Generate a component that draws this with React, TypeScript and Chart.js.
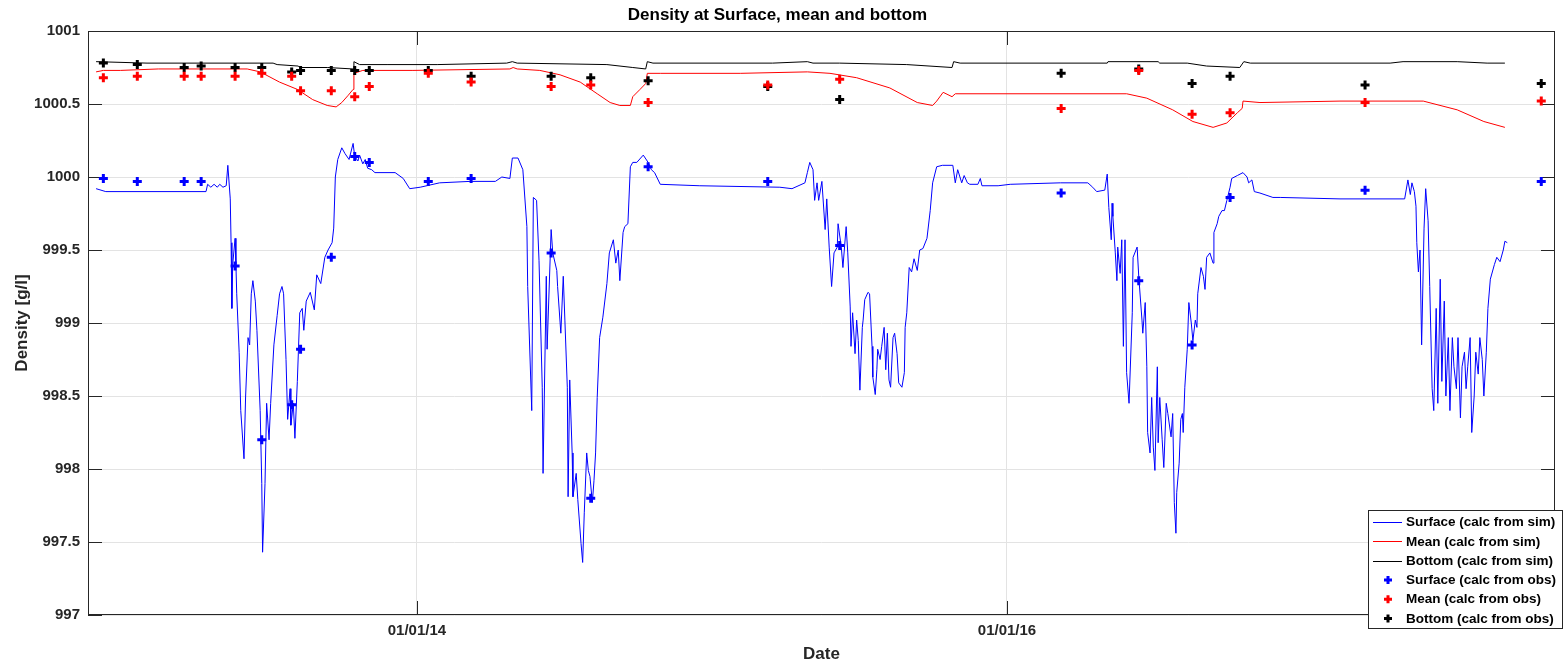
import React, { useEffect, useRef } from 'react';
import { Chart, registerables } from 'chart.js';

Chart.register(...registerables);

// x values are days since 01/01/2014
const surfaceSimDays = [
  -397, -385, -261, -259, -255, -251, -247, -244, -240, -236, -234, -231, -230, -229, -228, -225, -224, -223, -220, -218,
  -214, -212, -209, -207, -205, -203, -200, -198, -194, -192, -191, -188, -186, -183, -181, -177, -173, -170, -167, -165,
  -162, -160, -157, -156, -153, -151, -148, -145, -142, -140, -137, -132, -127, -124, -119, -114, -110, -105, -103, -101,
  -98, -93, -89, -84, -79, -77, -73, -71, -67, -64, -61, -56, -52, -27, -17, -9, 4, 28, 66, 97,
  105, 115, 118, 125, 131, 136, 137, 142, 144, 148, 151, 155, 156, 160, 161, 166, 168, 173, 174, 178,
  181, 183, 186, 187, 189, 192, 193, 197, 199, 203, 205, 207, 210, 212, 214, 217, 219, 221, 223, 226,
  230, 235, 238, 243, 246, 249, 251, 255, 257, 261, 264, 267, 272, 280, 286, 290, 294, 301, 350, 449,
  464, 480, 483, 486, 490, 492, 495, 497, 501, 505, 507, 510, 513, 516, 520, 521, 525, 527, 531, 533,
  536, 537, 539, 542, 544, 546, 548, 551, 552, 554, 558, 560, 563, 564, 567, 569, 570, 573, 575, 578,
  580, 582, 584, 586, 589, 591, 594, 596, 600, 603, 604, 606, 609, 612, 615, 619, 622, 626, 631, 635,
  638, 643, 650, 663, 666, 669, 674, 677, 681, 684, 694, 697, 699, 719, 734, 796, 830, 836, 841, 851,
  854, 856, 859, 860, 861, 864, 866, 867, 870, 872, 874, 876, 878, 881, 885, 886, 891, 893, 897, 898,
  901, 903, 904, 907, 909, 911, 913, 916, 917, 919, 922, 924, 927, 929, 933, 935, 937, 939, 940, 943,
  945, 947, 948, 950, 953, 955, 958, 960, 963, 965, 966, 970, 973, 975, 977, 981, 985, 986, 990, 992,
  996, 999, 1002, 1006, 1008, 1015, 1022, 1027, 1029, 1033, 1036, 1043, 1059, 1068, 1142, 1222, 1226, 1229, 1231, 1234,
  1236, 1237, 1239, 1241, 1243, 1246, 1248, 1251, 1253, 1256, 1258, 1261, 1263, 1266, 1268, 1271, 1273, 1276, 1278, 1281,
  1283, 1286, 1288, 1291, 1293, 1296, 1298, 1300, 1303, 1305, 1308, 1310, 1313, 1315, 1318, 1320, 1323, 1325, 1328, 1333,
  1336, 1340, 1344, 1346, 1349,
];
const surfaceSim = [
  999.92, 999.9, 999.9, 999.95, 999.93, 999.95, 999.93, 999.95, 999.93, 999.94, 1000.08, 999.85, 999.55, 999.1, 999.4, 999.58, 999.4, 999.2, 998.8, 998.4,
  998.07, 998.5, 998.9, 998.85, 999.2, 999.29, 999.15, 998.95, 998.4, 997.9, 997.43, 997.9, 998.45, 998.2, 998.45, 998.85, 999.05, 999.2, 999.25, 999.2,
  998.75, 998.34, 998.55, 998.3, 998.45, 998.21, 998.6, 999.07, 999.1, 998.95, 999.15, 999.21, 999.09, 999.33, 999.27, 999.45, 999.5, 999.55, 999.65, 1000.0,
  1000.12, 1000.2, 1000.16, 1000.12, 1000.23, 1000.14, 1000.11, 1000.15, 1000.09, 1000.12, 1000.06, 1000.05, 1000.03, 1000.03, 999.99, 999.92, 999.93, 999.96, 999.97, 999.97,
  1000.0, 999.99, 1000.13, 1000.13, 1000.05, 999.66, 999.25, 998.4, 999.86, 999.84, 999.43, 998.56, 997.97, 999.32, 998.82, 999.64, 999.48, 999.36, 999.25, 998.93,
  999.32, 999.02, 998.56, 997.81, 998.61, 998.11, 997.81, 997.97, 997.79, 997.49, 997.36, 997.7, 998.11, 997.99, 997.95, 997.77, 997.92, 998.11, 998.49, 998.9,
  999.04, 999.27, 999.48, 999.57, 999.41, 999.5, 999.29, 999.62, 999.66, 999.68, 1000.07, 1000.1, 1000.1, 1000.15, 1000.1, 1000.05, 1000.03, 999.95, 999.94, 999.93,
  999.92, 999.96, 1000.03, 1000.1, 1000.05, 999.84, 999.96, 999.84, 999.97, 999.64, 999.85, 999.52, 999.25, 999.48, 999.52, 999.68, 999.52, 999.38, 999.66, 999.48,
  999.11, 998.84, 999.07, 998.79, 999.02, 998.88, 998.54, 998.97, 999.02, 999.16, 999.21, 999.2, 998.84, 998.63, 998.51, 998.68, 998.82, 998.75, 998.84, 998.97,
  998.68, 998.93, 998.61, 998.56, 998.9, 998.93, 998.79, 998.59, 998.56, 998.66, 998.97, 999.07, 999.38, 999.35, 999.44, 999.36, 999.5, 999.51, 999.58, 999.77,
  999.96, 1000.07, 1000.08, 1000.08, 999.96, 1000.05, 999.96, 1000.01, 999.96, 999.95, 999.95, 999.99, 999.94, 999.94, 999.95, 999.96, 999.96, 999.93, 999.9, 999.91,
  1000.02, 999.79, 999.57, 999.82, 999.73, 999.48, 999.29, 999.52, 999.34, 999.57, 998.84, 999.57, 998.66, 998.45, 999.07, 999.45, 999.52, 999.32, 999.02, 998.93,
  999.14, 998.7, 998.25, 998.11, 998.49, 998.15, 997.99, 998.7, 998.18, 998.49, 998.2, 998.01, 998.45, 998.38, 998.22, 998.38, 997.77, 997.56, 997.84, 998.04,
  998.34, 998.38, 998.25, 998.56, 998.82, 999.14, 999.0, 998.88, 999.02, 998.97, 999.2, 999.38, 999.32, 999.23, 999.45, 999.48, 999.41, 999.62, 999.68, 999.73,
  999.77, 999.77, 999.84, 999.93, 999.99, 1000.01, 1000.03, 1000.0, 999.96, 999.98, 999.9, 999.89, 999.86, 999.86, 999.85, 999.85, 999.98, 999.88, 999.96, 999.9,
  999.8, 999.55, 999.35, 999.5, 998.85, 999.65, 999.92, 999.7, 999.25, 998.55, 998.4, 999.1, 998.45, 999.3, 998.6, 999.15, 998.5, 998.9, 998.4, 998.9,
  998.7, 998.55, 998.9, 998.35, 998.7, 998.8, 998.55, 998.7, 998.9, 998.25, 998.5, 998.8, 998.65, 998.9, 998.75, 998.5, 998.8, 999.1, 999.3, 999.4,
  999.45, 999.42, 999.5, 999.56, 999.55,
];

const meanSimDays = [
  -397, -388, -367, -320, -210, -194, -170, -148, -129, -111, -100, -93, -85, -79, -78, -67, -5, 115, 119, 124,
  152, 177, 202, 223, 239, 251, 264, 267, 276, 283, 285, 301, 400, 483, 511, 544, 585, 619, 638, 643,
  651, 662, 666, 878, 903, 935, 960, 985, 1002, 1015, 1021, 1022, 1043, 1142, 1245, 1287, 1320, 1346,
];
const meanSim = [
  1000.72, 1000.73, 1000.73, 1000.74, 1000.74, 1000.72, 1000.65, 1000.6, 1000.53, 1000.49, 1000.48, 1000.51, 1000.56, 1000.6, 1000.71, 1000.73, 1000.73, 1000.74, 1000.75, 1000.74,
  1000.73, 1000.7, 1000.65, 1000.57, 1000.51, 1000.49, 1000.49, 1000.55, 1000.6, 1000.64, 1000.71, 1000.71, 1000.71, 1000.72, 1000.71, 1000.68, 1000.61, 1000.51, 1000.49, 1000.52,
  1000.58, 1000.55, 1000.57, 1000.57, 1000.54, 1000.46, 1000.38, 1000.34, 1000.37, 1000.44, 1000.47, 1000.52, 1000.51, 1000.52, 1000.52, 1000.46, 1000.38, 1000.34,
];

const bottomSimDays = [
  -397, -334, -178, -173, -147, -145, -111, -79, -78, -71, -37, 25, 111, 118, 124, 235, 267, 283, 285, 292,
  440, 483, 490, 523, 606, 662, 664, 672, 854, 855, 917, 919, 953, 977, 1018, 1023, 1031, 1204, 1220, 1287,
  1324, 1346,
];
const bottomSim = [
  1000.79, 1000.78, 1000.78, 1000.77, 1000.76, 1000.75, 1000.75, 1000.74, 1000.79, 1000.77, 1000.77, 1000.77, 1000.78, 1000.79, 1000.78, 1000.77, 1000.75, 1000.74, 1000.79, 1000.78,
  1000.78, 1000.79, 1000.78, 1000.78, 1000.77, 1000.75, 1000.79, 1000.78, 1000.78, 1000.79, 1000.79, 1000.78, 1000.78, 1000.76, 1000.75, 1000.79, 1000.78, 1000.78, 1000.79, 1000.79,
  1000.78, 1000.78,
];

const obsDays = [-388, -346, -288, -267, -225, -192, -155, -144, -106, -77, -59, 14, 67, 166, 215, 286, 434, 523, 797, 893, 959, 1006, 1173, 1391];
const surfaceObs = [999.99, 999.97, 999.97, 999.97, 999.39, 998.2, 998.44, 998.82, 999.45, 1000.14, 1000.1, 999.97, 999.99, 999.48, 997.8, 1000.07, 999.97, 999.53, 999.89, 999.29, 998.85, 999.86, 999.91, 999.97];
const meanObs = [1000.68, 1000.69, 1000.69, 1000.69, 1000.69, 1000.71, 1000.69, 1000.59, 1000.59, 1000.55, 1000.62, 1000.71, 1000.65, 1000.62, 1000.63, 1000.51, 1000.63, 1000.67, 1000.47, 1000.73, 1000.43, 1000.44, 1000.51, 1000.52];
const bottomObs = [1000.78, 1000.77, 1000.75, 1000.76, 1000.75, 1000.75, 1000.72, 1000.73, 1000.73, 1000.73, 1000.73, 1000.73, 1000.69, 1000.69, 1000.68, 1000.66, 1000.62, 1000.53, 1000.71, 1000.74, 1000.64, 1000.69, 1000.63, 1000.64];

const xTickDays = [0, 730];
const xTickLabels = ['01/01/14', '01/01/16'];
const yTicks = [997, 997.5, 998, 998.5, 999, 999.5, 1000, 1000.5, 1001];

const X_MIN = -407;
const X_MAX = 1408;

const FONT = "'Liberation Sans', Arial, Helvetica, sans-serif";
const AXIS_COLOR = '#262626';

const pts = (xs: number[], ys: number[]) => xs.map((x, i) => ({ x, y: ys[i] }));

const framePlugin = {
  id: 'matlabFrame',
  beforeDatasetsDraw(chart: any) {
    const { ctx, chartArea: a, scales } = chart;
    const xs = scales.x;
    const ys = scales.y;
    ctx.save();
    ctx.strokeStyle = AXIS_COLOR;
    ctx.lineWidth = 1;
    const tl = 14;
    ctx.beginPath();
    for (const v of yTicks) {
      const py = Math.round(ys.getPixelForValue(v)) + 0.5;
      ctx.moveTo(a.left, py);
      ctx.lineTo(a.left + tl, py);
      ctx.moveTo(a.right, py);
      ctx.lineTo(a.right - tl, py);
    }
    for (const v of xTickDays) {
      const px = Math.round(xs.getPixelForValue(v)) + 0.5;
      ctx.moveTo(px, a.bottom);
      ctx.lineTo(px, a.bottom - tl);
      ctx.moveTo(px, a.top);
      ctx.lineTo(px, a.top + tl);
    }
    ctx.stroke();
    ctx.strokeRect(Math.round(a.left) + 0.5, Math.round(a.top) + 0.5, Math.round(a.right - a.left) - 1, Math.round(a.bottom - a.top) - 1);
    ctx.restore();
  },
};

const legendPlugin = {
  id: 'matlabLegend',
  afterDraw(chart: any) {
    const { ctx, chartArea: a } = chart;
    const right = a.right + 7;
    const bottom = a.bottom + 13;
    const w = 194;
    const h = 118;
    const left = right - w;
    const top = bottom - h;
    ctx.save();
    ctx.fillStyle = '#ffffff';
    ctx.fillRect(left, top, w, h);
    ctx.strokeStyle = AXIS_COLOR;
    ctx.lineWidth = 1;
    ctx.strokeRect(Math.round(left) + 0.5, Math.round(top) + 0.5, w, h);
    ctx.font = `bold 13.5px ${FONT}`;
    ctx.textBaseline = 'middle';
    ctx.textAlign = 'left';
    chart.data.datasets.forEach((ds: any, i: number) => {
      const cy = top + 12 + i * 19.3;
      if (ds.showLine === false) {
        ctx.strokeStyle = ds.borderColor;
        ctx.lineWidth = 3;
        ctx.beginPath();
        ctx.moveTo(left + 20 - 4, cy);
        ctx.lineTo(left + 20 + 4, cy);
        ctx.moveTo(left + 20, cy - 4);
        ctx.lineTo(left + 20, cy + 4);
        ctx.stroke();
      } else {
        ctx.strokeStyle = ds.borderColor;
        ctx.lineWidth = 1;
        ctx.beginPath();
        ctx.moveTo(left + 5, Math.round(cy) + 0.5);
        ctx.lineTo(left + 34, Math.round(cy) + 0.5);
        ctx.stroke();
      }
      ctx.fillStyle = '#000000';
      ctx.fillText(ds.label, left + 38, cy + 0.5);
    });
    ctx.restore();
  },
};

export default function App() {
  const canvasRef = useRef<HTMLCanvasElement | null>(null);

  useEffect(() => {
    document.body.style.margin = '0';
    const canvas = canvasRef.current;
    if (!canvas) return;
    const lineDs = (label: string, xs: number[], ys: number[], color: string, order: number) => ({
      type: 'line' as const,
      label,
      data: pts(xs, ys),
      borderColor: color,
      backgroundColor: color,
      borderWidth: 1,
      pointRadius: 0,
      tension: 0,
      fill: false,
      order,
    });
    const obsDs = (label: string, ys: number[], color: string) => ({
      type: 'line' as const,
      label,
      data: pts(obsDays, ys),
      showLine: false,
      borderColor: color,
      backgroundColor: color,
      pointStyle: 'cross',
      pointRadius: 4.5,
      pointBorderWidth: 3,
      borderWidth: 3,
      order: 0,
    });
    const chart = new Chart(canvas, {
      type: 'line',
      data: {
        datasets: [
          lineDs('Surface (calc from sim)', surfaceSimDays, surfaceSim, '#0000ff', 3),
          lineDs('Mean (calc from sim)', meanSimDays, meanSim, '#ff0000', 2),
          lineDs('Bottom (calc from sim)', bottomSimDays, bottomSim, '#000000', 1),
          obsDs('Surface (calc from obs)', surfaceObs, '#0000ff'),
          obsDs('Mean (calc from obs)', meanObs, '#ff0000'),
          obsDs('Bottom (calc from obs)', bottomObs, '#000000'),
        ] as any,
      },
      options: {
        responsive: false,
        animation: false,
        parsing: false as any,
        normalized: true,
        layout: { padding: { left: 0, right: 10, top: 0, bottom: 0 } },
        plugins: {
          legend: { display: false },
          tooltip: { enabled: false },
          title: {
            display: true,
            text: 'Density at Surface, mean and bottom',
            color: '#000000',
            font: { family: FONT, size: 17, weight: 'bold', lineHeight: 1.2 },
            padding: { top: 5, bottom: 5.6 },
          },
        },
        scales: {
          x: {
            type: 'linear',
            min: X_MIN,
            max: X_MAX,
            afterBuildTicks: (scale: any) => {
              scale.ticks = xTickDays.map((v) => ({ value: v }));
            },
            afterFit: (scale: any) => {
              scale.height = 48;
            },
            ticks: {
              autoSkip: false,
              maxRotation: 0,
              padding: 7,
              color: AXIS_COLOR,
              font: { family: FONT, size: 15, weight: 'bold' },
              callback: (v: any) => {
                const i = xTickDays.indexOf(Number(v));
                return i >= 0 ? xTickLabels[i] : '';
              },
            },
            grid: { color: '#e3e3e3', drawTicks: false, lineWidth: 1 },
            border: { display: false },
            title: {
              display: true,
              text: 'Date',
              color: AXIS_COLOR,
              font: { family: FONT, size: 17, weight: 'bold', lineHeight: 1 },
              padding: { top: 0, bottom: 0.5 },
            },
          },
          y: {
            type: 'linear',
            min: 997,
            max: 1001,
            afterBuildTicks: (scale: any) => {
              scale.ticks = yTicks.map((v) => ({ value: v }));
            },
            afterFit: (scale: any) => {
              scale.width = 88;
            },
            ticks: {
              padding: 8,
              color: AXIS_COLOR,
              font: { family: FONT, size: 15, weight: 'bold' },
              callback: (v: any) => String(Number(v)),
            },
            grid: { color: '#e3e3e3', drawTicks: false, lineWidth: 1 },
            border: { display: false },
            title: {
              display: true,
              text: 'Density [g/l]',
              color: AXIS_COLOR,
              font: { family: FONT, size: 17, weight: 'bold', lineHeight: 1.2 },
              padding: { top: 11.8, bottom: 0 },
            },
          },
        },
      } as any,
      plugins: [framePlugin, legendPlugin],
    });
    return () => chart.destroy();
  }, []);

  return (
    <div style={{ width: 1565, height: 663, background: '#ffffff' }}>
      <canvas ref={canvasRef} width={1565} height={663} style={{ display: 'block' }} />
    </div>
  );
}
